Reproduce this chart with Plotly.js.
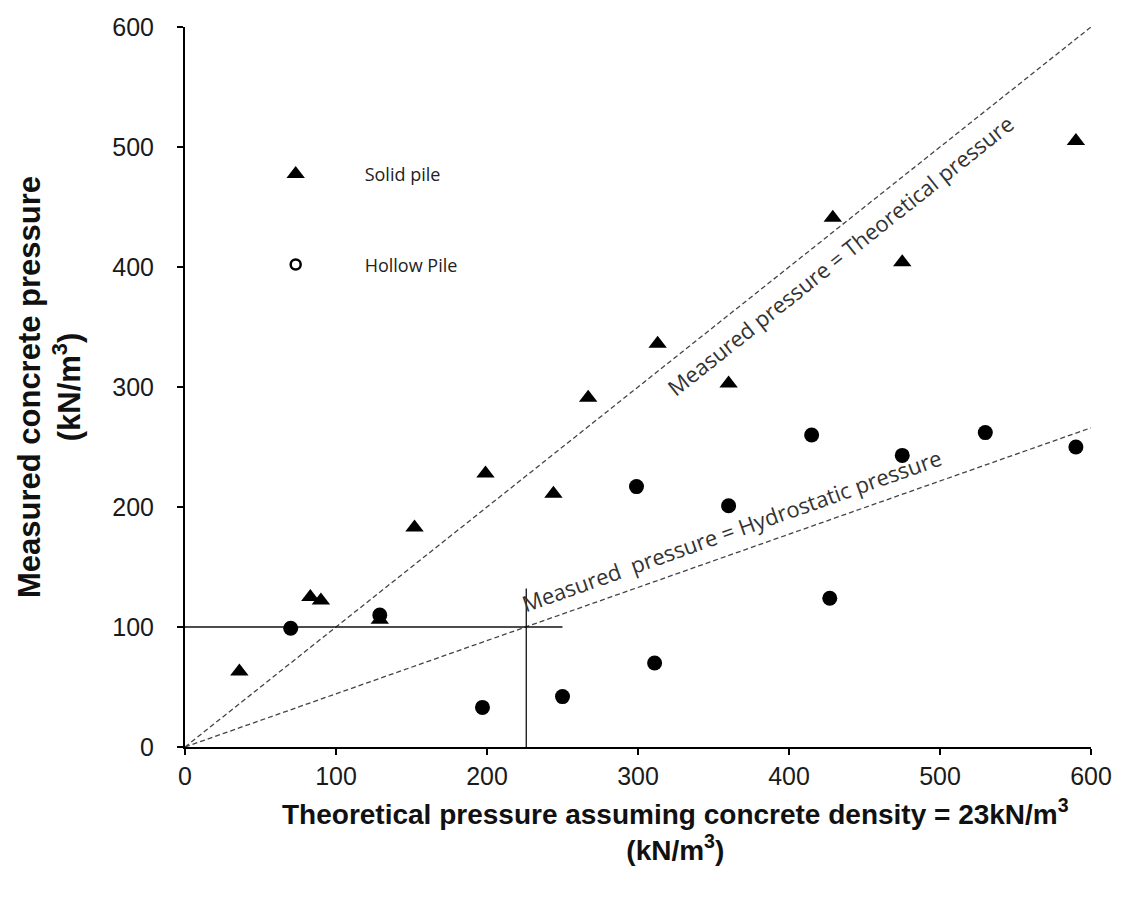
<!DOCTYPE html>
<html>
<head>
<meta charset="utf-8">
<script src="https://cdn.plot.ly/plotly-3.0.1.min.js"></script>
<style>html,body{margin:0;padding:0;background:#fff;}#chart{width:1125px;height:898px;}</style>
</head>
<body>
<div id="chart"></div>
<script>
// Solid pile (triangles)
const solidX = [36, 83, 90, 129, 152, 199, 244, 267, 313, 360, 429, 475, 590];
const solidY = [63, 125, 122, 106, 183, 228, 211, 291, 336, 303, 441, 404, 505];
// Hollow pile (circles)
const hollowX = [70, 129, 197, 250, 299, 311, 360, 415, 427, 475, 530, 590];
const hollowY = [99, 110, 33, 42, 217, 70, 201, 260, 124, 243, 262, 250];
// Reference lines
const theoX = [0, 600];
const theoY = [0, 600];
const hydroX = [0, 600];
const hydroY = [0, 266];
const refHX = [0, 250];
const refHY = [100, 100];
const refVX = [226, 226];
const refVY = [0, 132];
const tickVals = [0, 100, 200, 300, 400, 500, 600];

const dashStyle = {color: '#444', width: 1.3, dash: '5px,3px'};
const traces = [
  {x: theoX, y: theoY, mode: 'lines', line: dashStyle, showlegend: false, hoverinfo: 'skip'},
  {x: hydroX, y: hydroY, mode: 'lines', line: dashStyle, showlegend: false, hoverinfo: 'skip'},
  {x: refHX, y: refHY, mode: 'lines', line: {color: '#111', width: 1.3}, showlegend: false, hoverinfo: 'skip'},
  {x: refVX, y: refVY, mode: 'lines', line: {color: '#111', width: 1.3}, showlegend: false, hoverinfo: 'skip'},
  {x: solidX, y: solidY, mode: 'markers', name: 'Solid pile', legendgroup: 'a',
   marker: {symbol: 'triangle-up', size: 16, color: '#000'}},
  {x: hollowX, y: hollowY, mode: 'markers', name: 'Hollow Pile', legendgroup: 'b', showlegend: false,
   marker: {symbol: 'circle', size: 15, color: '#000'}},
  {x: [null], y: [null], mode: 'markers', name: 'Hollow Pile', legendgroup: 'b',
   marker: {symbol: 'circle-open', size: 10, color: '#000', line: {width: 2.5, color: '#000'}}}
];

const tickFont = {family: 'Liberation Sans, Arial, sans-serif', size: 25, color: '#1a1a1a'};
const layout = {
  width: 1125, height: 898,
  margin: {l: 185, r: 34, t: 27, b: 151},
  paper_bgcolor: '#fff', plot_bgcolor: '#fff',
  xaxis: {
    range: [0, 600], tickvals: tickVals, ticks: 'outside', ticklen: 6, tickwidth: 2, tickcolor: '#000',
    showline: true, linecolor: '#000', linewidth: 2, showgrid: false, zeroline: false,
    tickfont: tickFont, ticklabelstandoff: 0
  },
  yaxis: {
    range: [0, 600], tickvals: tickVals, ticks: 'outside', ticklen: 6, tickwidth: 2, tickcolor: '#000',
    showline: true, linecolor: '#000', linewidth: 2, showgrid: false, zeroline: false,
    tickfont: tickFont, ticklabelstandoff: 18,
    title: {text: 'Measured concrete pressure<br>(kN/m<sup>3</sup>)', standoff: 22,
      font: {family: 'Liberation Sans, Arial, sans-serif', size: 31, color: '#111', weight: 'bold'}}
  },
  showlegend: true,
  legend: {
    x: 0.046, y: 0.821, xanchor: 'left', yanchor: 'top', bgcolor: 'rgba(0,0,0,0)',
    traceorder: 'grouped', tracegroupgap: 64, itemwidth: 128,
    font: {family: 'Open Sans, sans-serif', size: 18, color: '#222'}
  },
  annotations: [
    {xref: 'paper', yref: 'paper', x: 0.541, y: -0.063, xanchor: 'center', yanchor: 'top', showarrow: false,
     text: '<b>Theoretical pressure assuming concrete density = 23kN/m<sup>3</sup></b><br><b>(kN/m<sup>3</sup>)</b>',
     font: {family: 'Liberation Sans, Arial, sans-serif', size: 28, color: '#111'}},
    {xref: 'x', yref: 'y', x: 434, y: 410, showarrow: false, textangle: -38.5,
     text: 'Measured pressure = Theoretical pressure',
     font: {family: 'Open Sans, sans-serif', size: 22, color: '#333'}},
    {xref: 'x', yref: 'y', x: 362, y: 181, showarrow: false, textangle: -19.5,
     text: 'Measured  pressure = Hydrostatic pressure',
     font: {family: 'Open Sans, sans-serif', size: 22, color: '#333'}}
  ]
};
Plotly.newPlot('chart', traces, layout, {displayModeBar: false, staticPlot: true});
</script>
</body>
</html>
